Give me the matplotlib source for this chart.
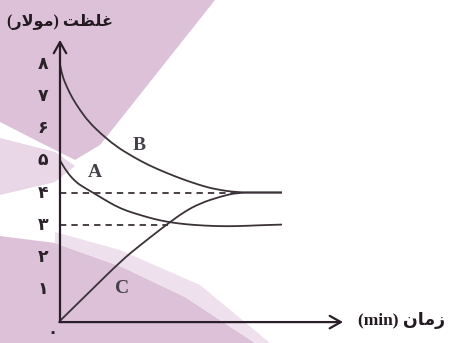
import matplotlib
matplotlib.use("Agg")
import matplotlib.pyplot as plt
from matplotlib.patches import Polygon, PathPatch
from matplotlib.path import Path

# concentration curves (time in min, concentration in mol/L)
b_time = [0, 0.1, 0.3, 0.55, 0.9, 1.3, 1.8, 2.5, 3.3, 4.0, 4.8, 5.5, 6.3, 7.0, 8.0, 9.0, 10]
b_conc = [8.0, 7.65, 7.3, 6.95, 6.57, 6.2, 5.86, 5.45, 5.11, 4.85, 4.61, 4.42, 4.23, 4.1, 4.0, 4.0, 4.0]

a_time = [0, 0.3, 0.7, 1.1, 1.5, 2.0, 2.5, 3.0, 3.6, 4.2, 4.8, 5.4, 6.0, 7.0, 8.0, 9.0, 10]
a_conc = [5.0, 4.65, 4.33, 4.15, 3.99, 3.78, 3.58, 3.43, 3.3, 3.18, 3.09, 3.03, 2.99, 2.95, 2.95, 2.98, 3.0]

c_time = [0, 1.4, 2.8, 3.6, 4.3, 4.9, 5.6, 6.3, 7.2, 8.0, 9.0, 10]
c_conc = [0, 0.95, 1.9, 2.35, 2.73, 3.05, 3.4, 3.66, 3.87, 4.0, 4.0, 4.0]

# equilibrium guide lines: (level, time where it meets the curves)
guides = [(4, 7.95), (3, 4.85)]

tick_values = [1, 2, 3, 4, 5, 6, 7, 8]
tick_labels = ["۱", "۲", "۳", "۴", "۵", "۶", "۷", "۸"]
zero_label = "۰"

curve_names = ["B", "A", "C"]
name_pos = [(3.57, 5.48), (1.58, 4.62), (2.81, 1.01)]
# axis titles, pre-shaped Persian glyphs in display order
ylabel = "(\uFEAD\uFEFB\uFEEE\uFEE3) \uFE96\uFEC8\uFEE0\uFECF"
xlabel = "(min) \uFEE5\uFE8E\uFEE3\uFEAF"

W, H = 452, 343
x0, sx = 60, 22.2      # origin pixel / pixels per minute
y0, sy = 320.8, 32.07  # origin pixel / pixels per unit concentration

fig = plt.figure(figsize=(W / 100, H / 100), dpi=100)
ax = fig.add_axes([0, 0, 1, 1])
ax.set_xlim(-x0 / sx, (W - x0) / sx)
ax.set_ylim((y0 - H) / sy, y0 / sy)
ax.axis("off")


def px(points):
    return [(x / W, 1 - y / H) for x, y in points]


def smooth_path(xs, ys):
    # quadratic b-spline through segment midpoints, ends pinned
    pts = list(zip(xs, ys))
    verts = [pts[0]]
    codes = [Path.MOVETO]
    mids = [((pts[i][0] + pts[i + 1][0]) / 2, (pts[i][1] + pts[i + 1][1]) / 2)
            for i in range(len(pts) - 1)]
    verts.append(mids[0])
    codes.append(Path.LINETO)
    for i in range(1, len(pts) - 1):
        verts += [pts[i], mids[i]]
        codes += [Path.CURVE3, Path.CURVE3]
    verts.append(pts[-1])
    codes.append(Path.LINETO)
    return Path(verts, codes)


# pink background bands
bands = [
    ([(0, 0), (215, 0), (100, 145), (75, 160), (55, 150), (0, 122)], "#dcc1d9"),
    ([(0, 138), (55, 152), (75, 166), (55, 182), (0, 195)], "#e9d6e6"),
    ([(0, 236), (55, 243), (122, 267), (185, 297), (255, 343), (0, 343)], "#dcc1d9"),
    ([(55, 232), (120, 250), (200, 285), (270, 343), (255, 343), (185, 297), (122, 267), (55, 243)], "#eee0ec"),
]
for verts, col in bands:
    ax.add_patch(Polygon(px(verts), closed=True, transform=ax.transAxes,
                         facecolor=col, edgecolor="none", zorder=0))

line_col = "#3a3238"
for xs, ys in [(b_time, b_conc), (a_time, a_conc), (c_time, c_conc)]:
    ax.add_patch(PathPatch(smooth_path(xs, ys), facecolor="none",
                           edgecolor=line_col, lw=1.3, zorder=3))

for level, t_end in guides:
    ax.plot([0, t_end], [level, level], color=line_col, lw=1.3,
            dashes=(3.5, 2.8), zorder=2)

# axes with open arrow heads
axis_col = "#2a1f28"
arrow = "->,head_length=0.8,head_width=0.45"
ax.annotate("", xy=(0, 8.76), xytext=(0, -0.04),
            arrowprops=dict(arrowstyle=arrow, lw=1.6, color=axis_col,
                            shrinkA=0, shrinkB=0), zorder=4)
ax.annotate("", xy=(12.75, -0.04), xytext=(-0.03, -0.04),
            arrowprops=dict(arrowstyle=arrow, lw=1.6, color=axis_col,
                            shrinkA=0, shrinkB=0), zorder=4)

for v, lab in zip(tick_values, tick_labels):
    ax.text(-0.77, v, lab, ha="center", va="center", fontsize=12.5,
            fontweight="bold", color="#2a2228", family="DejaVu Sans")
ax.text(-0.33, -0.36, zero_label, ha="center", va="center", fontsize=12,
        fontweight="bold", color="#2a2228", family="DejaVu Sans")

for name, (t, c) in zip(curve_names, name_pos):
    ax.text(t, c, name, ha="center", va="center", fontsize=14,
            fontweight="bold", color="#454048", family="Liberation Serif")

ax.text(0.133, 0.936, ylabel, transform=ax.transAxes, ha="center", va="center",
        fontsize=11.5, fontweight="bold", color="#221a20",
        family=["Liberation Serif", "DejaVu Sans"])
ax.text(0.889, 0.066, xlabel, transform=ax.transAxes, ha="center", va="center",
        fontsize=12.5, fontweight="bold", color="#221a20",
        family=["Liberation Serif", "DejaVu Sans"])

fig.savefig("out.png", dpi=100)
